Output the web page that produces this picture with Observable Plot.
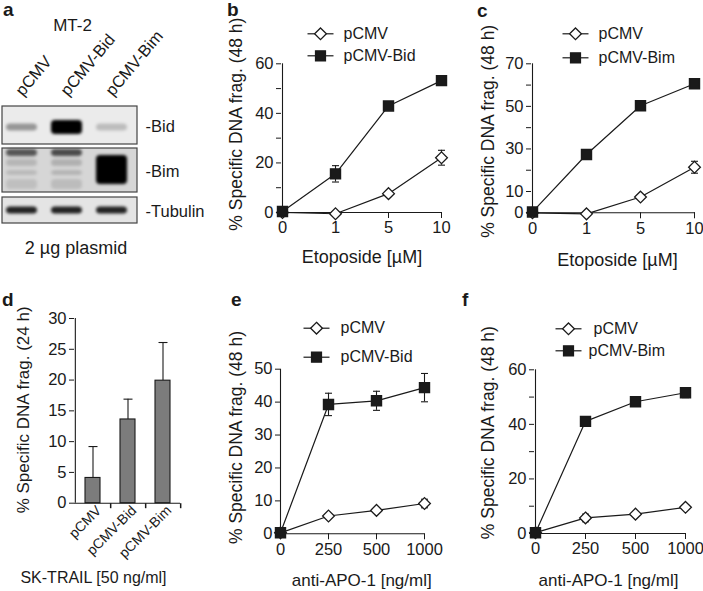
<!DOCTYPE html>
<html><head><meta charset="utf-8">
<script src="https://cdn.jsdelivr.net/npm/d3@7"></script>
<script src="https://cdn.jsdelivr.net/npm/@observablehq/plot@0.6"></script>
<style>
body{margin:0;background:#fff;}
#fig{position:relative;width:703px;height:591px;background:#fff;overflow:hidden;font-family:"Liberation Sans",Arial,Helvetica,sans-serif;color:#1a1a1a;}
#fig svg{position:absolute;}
.plbl{position:absolute;font-weight:bold;font-size:19px;line-height:19px;}
</style></head><body><div id="fig"></div>
<script>
// ---------- data ----------
const etoDoses = ["0","1","5","10"];
const apoDoses = ["0","250","500","1000"];
// panel b (Etoposide, Bid)
const bEmpty = [0, -0.5, 7.6, 22.1];
const bEmptyErr = [0, 0, 0, 3];
const bBid = [0.4, 15.6, 43, 53.2];
const bBidErr = [0, 3.3, 0, 0];
// panel c (Etoposide, Bim)
const cEmpty = [0, -0.5, 7.4, 21.4];
const cEmptyErr = [0, 0, 0, 2.8];
const cBim = [0.4, 27.4, 50.3, 60.6];
const cBimErr = [0, 0, 0, 0];
// panel d (SK-TRAIL)
const dConstructs = ["pCMV", "pCMV-Bid", "pCMV-Bim"];
const dValues = [4.1, 13.6, 19.9];
const dErrors = [5.1, 3.3, 6.2];
// panel e (anti-APO-1, Bid)
const eEmpty = [0.3, 5.4, 7.1, 9.2];
const eEmptyErr = [0, 0, 0, 1.3];
const eBid = [0.3, 39.3, 40.4, 44.4];
const eBidErr = [0, 3.4, 2.9, 4.3];
// panel f (anti-APO-1, Bim)
const fEmpty = [0.3, 5.7, 7.1, 9.6];
const fEmptyErr = [0, 1.4, 0, 0.8];
const fBim = [0.3, 41.1, 48.3, 51.6];
const fBimErr = [0, 0, 0, 1.8];
// tick values / labels
const bTicks = [0,10,20,30,40,50,60], bLabels = [0,20,40,60];
const cTicks = [0,10,20,30,40,50,60,70], cLabels = [0,10,30,50,70];
const dTicks = [0,5,10,15,20,25,30];
const eTicks = [0,10,20,30,40,50];
const fTicks = [0,10,20,30,40,50,60], fLabels = [0,20,40,60];
// blot (panel a)
const lanes = ["pCMV", "pCMV-Bid", "pCMV-Bim"];
const blotRows = ["Bid", "Bim", "Tubulin"];
const bidIntensity = [0.36, 1, 0.2];
const bimIntensity = [0.3, 0.35, 1];
const tubulinIntensity = [0.85, 0.85, 0.85];

// ---------- style helpers ----------
const INK = "#1a1a1a";
const FONT = "'Liberation Sans', Arial, Helvetica, sans-serif";
const fig = document.getElementById("fig");
const cap = w => ({draw(ctx){ ctx.moveTo(-w,0); ctx.lineTo(w,0); }});
const legendLine = {draw(ctx){ ctx.moveTo(-13,0); ctx.lineTo(13,0); }};
const vtick = {draw(ctx){ ctx.moveTo(0,0); ctx.lineTo(0,5); }};
const styleObj = {fontFamily: FONT, fontSize: "16px", color: INK, background: "transparent", overflow: "visible"};

function place(svg, box){
  svg.style.left = box.left + "px";
  svg.style.top = box.top + "px";
  fig.appendChild(svg);
  return svg;
}

function linePanel(o){
  const rows = [];
  o.series.forEach(s => o.doses.forEach((d,i) => rows.push({series: s.name, filled: s.filled, dose: d, value: s.values[i], err: s.errors[i]})));
  const errs = rows.filter(r => r.err > 0);
  const {box, frame} = o;
  const marks = [
    Plot.ruleY([0], {stroke: INK, strokeWidth: 1.1}),
    Plot.ruleX([o.doses[0]], {y1: () => o.yDomain[0], y2: () => o.yDomain[1], stroke: INK, strokeWidth: 1.1}),
    Plot.axisY({ticks: o.yTicks, tickFormat: d => o.yLabels.includes(d) ? String(d) : "", tickSize: 5, tickPadding: 3, fontSize: 16.5, label: null}),
    Plot.axisX({tickSize: 6, tickPadding: 3, fontSize: 16.5, label: null}),
    Plot.line(rows, {x: "dose", y: "value", z: "series", stroke: INK, strokeWidth: 1.2}),
    Plot.ruleX(errs, {x: "dose", y1: d => d.value - d.err, y2: d => d.value + d.err, stroke: INK, strokeWidth: 1.1}),
    Plot.dot(errs, {x: "dose", y: d => d.value + d.err, symbol: cap(3.5), r: 1, stroke: INK, fill: "none", strokeWidth: 1.1}),
    Plot.dot(errs, {x: "dose", y: d => d.value - d.err, symbol: cap(3.5), r: 1, stroke: INK, fill: "none", strokeWidth: 1.1}),
    Plot.dot(rows.filter(r => !r.filled), {x: "dose", y: "value", symbol: "diamond2", r: 5.3, fill: "white", stroke: INK, strokeWidth: 1.3}),
    Plot.dot(rows.filter(r => r.filled), {x: "dose", y: "value", symbol: "square", r: 5.6, fill: INK, stroke: INK})
  ];
  o.series.forEach((s, i) => {
    const lg = o.legend[i];
    marks.push(Plot.dot([s.name], {frameAnchor: "top-left", dx: lg.mx, dy: lg.y, symbol: legendLine, r: 1, stroke: INK, fill: "none", strokeWidth: 1.2}));
    marks.push(Plot.dot([s.name], {frameAnchor: "top-left", dx: lg.mx, dy: lg.y, symbol: s.filled ? "square" : "diamond2", r: s.filled ? 5.6 : 5.3, fill: s.filled ? INK : "white", stroke: INK, strokeWidth: 1.3}));
    marks.push(Plot.text([s.name], {frameAnchor: "top-left", dx: lg.tx, dy: lg.y, textAnchor: "start", lineAnchor: "middle", fontSize: 16, fill: INK}));
  });
  marks.push(Plot.text([o.xTitle], {frameAnchor: "bottom", dx: o.xt[0], dy: o.xt[1], textAnchor: "middle", lineAnchor: "middle", fontSize: o.xFont, fill: INK}));
  marks.push(Plot.text([o.yTitle], {frameAnchor: "left", rotate: -90, dx: o.yt[0], dy: o.yt[1], textAnchor: "middle", lineAnchor: "middle", fontSize: 17.5, fill: INK}));
  const svg = Plot.plot({
    width: box.width, height: box.height,
    marginLeft: frame.x1 - box.left, marginRight: box.left + box.width - frame.x2,
    marginTop: frame.y1 - box.top, marginBottom: box.top + box.height - frame.y2,
    x: {type: "point", domain: o.doses, padding: 0},
    y: {domain: o.yDomain},
    style: styleObj,
    marks
  });
  return place(svg, box);
}

// ---------- panel b ----------
linePanel({
  box: {left: 230, top: 0, width: 235, height: 290},
  frame: {x1: 281, x2: 442, y1: 63.3, y2: 212},
  doses: etoDoses, yDomain: [0, 60], yTicks: bTicks, yLabels: bLabels,
  series: [
    {name: "pCMV", filled: false, values: bEmpty, errors: bEmptyErr},
    {name: "pCMV-Bid", filled: true, values: bBid, errors: bBidErr}
  ],
  legend: [{mx: 39, tx: 62, y: -30}, {mx: 39, tx: 62, y: -8}],
  xTitle: "Etoposide [µM]", xt: [0, 45], xFont: 18,
  yTitle: "% Specific DNA frag. (48 h)", yt: [-45, -14]
});

// ---------- panel c ----------
linePanel({
  box: {left: 465, top: 0, width: 238, height: 290},
  frame: {x1: 531, x2: 695, y1: 63.3, y2: 212.3},
  doses: etoDoses, yDomain: [0, 70], yTicks: cTicks, yLabels: cLabels,
  series: [
    {name: "pCMV", filled: false, values: cEmpty, errors: cEmptyErr},
    {name: "pCMV-Bim", filled: true, values: cBim, errors: cBimErr}
  ],
  legend: [{mx: 44, tx: 67, y: -30}, {mx: 44, tx: 67, y: -6}],
  xTitle: "Etoposide [µM]", xt: [4, 47], xFont: 18,
  yTitle: "% Specific DNA frag. (48 h)", yt: [-43, -7]
});

// ---------- panel e ----------
linePanel({
  box: {left: 230, top: 295, width: 235, height: 296},
  frame: {x1: 280, x2: 424.5, y1: 368.7, y2: 533.3},
  doses: apoDoses, yDomain: [0, 50], yTicks: eTicks, yLabels: eTicks,
  series: [
    {name: "pCMV", filled: false, values: eEmpty, errors: eEmptyErr},
    {name: "pCMV-Bid", filled: true, values: eBid, errors: eBidErr}
  ],
  legend: [{mx: 36, tx: 60, y: -41}, {mx: 36, tx: 60, y: -12}],
  xTitle: "anti-APO-1 [ng/ml]", xt: [9, 47], xFont: 17,
  yTitle: "% Specific DNA frag. (48 h)", yt: [-44, -14]
});

// ---------- panel f ----------
linePanel({
  box: {left: 465, top: 295, width: 238, height: 296},
  frame: {x1: 534, x2: 685, y1: 369.3, y2: 533},
  doses: apoDoses, yDomain: [0, 60], yTicks: fTicks, yLabels: fLabels,
  series: [
    {name: "pCMV", filled: false, values: fEmpty, errors: fEmptyErr},
    {name: "pCMV-Bim", filled: true, values: fBim, errors: fBimErr}
  ],
  legend: [{mx: 34, tx: 59, y: -41}, {mx: 34, tx: 54, y: -19}],
  xTitle: "anti-APO-1 [ng/ml]", xt: [-1.5, 47], xFont: 17,
  yTitle: "% Specific DNA frag. (48 h)", yt: [-46, -19]
});

// ---------- panel d ----------
(function(){
  const box = {left: 0, top: 295, width: 230, height: 296};
  const frame = {x1: 74, x2: 180, y1: 318, y2: 502.7};
  const step = (frame.x2 - frame.x1) / dConstructs.length;
  const rows = dConstructs.map((c, i) => ({c, v: dValues[i], e: dErrors[i]}));
  const svg = Plot.plot({
    width: box.width, height: box.height,
    marginLeft: frame.x1 - box.left, marginRight: box.left + box.width - frame.x2,
    marginTop: frame.y1 - box.top, marginBottom: box.top + box.height - frame.y2,
    x: {type: "band", domain: dConstructs, padding: 0},
    y: {domain: [0, 30]},
    style: styleObj,
    marks: [
      Plot.ruleX(rows, {x: "c", y1: "v", y2: d => d.v + d.e, stroke: INK, strokeWidth: 1.1}),
      Plot.dot(rows, {x: "c", y: d => d.v + d.e, symbol: cap(4.5), r: 1, stroke: INK, fill: "none", strokeWidth: 1.1}),
      Plot.barY(rows, {x: "c", y: "v", fill: "#7c7c7c", stroke: INK, strokeWidth: 1.1, insetLeft: 10, insetRight: 10}),
      Plot.ruleY([0], {stroke: INK, strokeWidth: 1.1}),
      Plot.ruleX([dConstructs[0]], {dx: -step/2, y1: () => 0, y2: () => 30, stroke: INK, strokeWidth: 1.1}),
      Plot.dot(dConstructs, {x: d => d, y: () => 0, dx: step/2, symbol: vtick, r: 1, stroke: INK, fill: "none"}),
      Plot.axisY({ticks: dTicks, tickSize: 5, tickPadding: 3, fontSize: 16.5, label: null}),
      Plot.axisX({tickSize: 0, tickPadding: 5, tickRotate: -45, fontSize: 14, dx: 6, label: null}),
      Plot.text(["SK-TRAIL [50 ng/ml]"], {frameAnchor: "bottom", dx: -34, dy: 75, textAnchor: "middle", lineAnchor: "middle", fontSize: 16, fill: INK}),
      Plot.text(["% Specific DNA frag. (24 h)"], {frameAnchor: "left", rotate: -90, dx: -51, dy: -1, textAnchor: "middle", lineAnchor: "middle", fontSize: 17, fill: INK})
    ]
  });
  place(svg, box);
})();

// ---------- panel a (western blot) ----------
(function(){
  const box = {left: 0, top: 0, width: 228, height: 262};
  const blotRight = 137;
  const rowBox = {Bid: [106, 144], Bim: [148, 192], Tubulin: [197, 223]};
  const bg = {Bid: "#ebebeb", Bim: "#d6d6d6", Tubulin: "#e4e4e4"};
  const boxes = blotRows.map(r => ({row: r, y1: rowBox[r][0], y2: rowBox[r][1], fill: bg[r]}));
  const bands = [];
  lanes.forEach((lane, i) => {
    const b = bidIntensity[i];
    bands.push({lane, y1: b > 0.6 ? 120 : 123.5, y2: b > 0.6 ? 134 : 130.5, o: b});
    const m = bimIntensity[i];
    if (m > 0.6) {
      bands.push({lane, y1: 155, y2: 184, o: m});
    } else {
      bands.push({lane, y1: 149, y2: 156, o: m + 0.3});
      bands.push({lane, y1: 159, y2: 166, o: m * 0.5});
      bands.push({lane, y1: 170, y2: 175, o: m * 0.45});
      bands.push({lane, y1: 179, y2: 189, o: m * 0.35});
    }
    bands.push({lane, y1: 206.5, y2: 213.5, o: tubulinIntensity[i]});
  });
  const svg = Plot.plot({
    width: box.width, height: box.height,
    marginLeft: 2, marginRight: box.width - blotRight, marginTop: 0, marginBottom: 0,
    x: {type: "band", domain: lanes, range: [-2, 134], padding: 0, axis: null},
    y: {type: "linear", domain: [0, box.height], range: [0, box.height], axis: null},
    opacity: {type: "identity"},
    style: styleObj,
    marks: [
      Plot.rect(boxes, {y1: "y1", y2: "y2", fill: "fill"}),
      Plot.rect(bands, {x: "lane", y1: "y1", y2: "y2", fill: "#000", fillOpacity: "o", insetLeft: 7, insetRight: 7, rx: 4}),
      Plot.rect(boxes, {y1: "y1", y2: "y2", fill: "none", stroke: "#444", strokeWidth: 1.2}),
      Plot.text(["MT-2"], {frameAnchor: "top", dx: 2.5, dy: 25, textAnchor: "middle", lineAnchor: "middle", fontSize: 17, fill: INK}),
      Plot.text(lanes, {x: d => d, y: () => 93, dx: -3, rotate: -50, textAnchor: "start", lineAnchor: "middle", fontSize: 16.5, fill: INK}),
      Plot.text(blotRows, {y: r => (rowBox[r][0] + rowBox[r][1]) / 2 + 1, frameAnchor: "right", dx: 8, textAnchor: "start", lineAnchor: "middle", text: r => "-" + r, fontSize: 16.5, fill: INK}),
      Plot.text(["2 µg plasmid"], {frameAnchor: "top", dx: 6, dy: 248, textAnchor: "middle", lineAnchor: "middle", fontSize: 18, fill: INK})
    ]
  });
  // soften the blot bands
  const defs = d3.select(svg).insert("defs", ":first-child");
  defs.append("filter").attr("id", "blotblur").attr("x", "-20%").attr("y", "-40%").attr("width", "140%").attr("height", "180%")
    .append("feGaussianBlur").attr("stdDeviation", 1.6);
  const rectGroups = svg.querySelectorAll('g[aria-label="rect"]');
  if (rectGroups[1]) rectGroups[1].setAttribute("filter", "url(#blotblur)");
  place(svg, box);
})();

// ---------- panel letters ----------
[["a", 3, 0], ["b", 227, 0], ["c", 477, 1], ["d", 2, 290], ["e", 231, 290], ["f", 462, 290]].forEach(([t, x, y]) => {
  const el = document.createElement("div");
  el.className = "plbl";
  el.textContent = t;
  el.style.left = x + "px";
  el.style.top = y + "px";
  fig.appendChild(el);
});
</script></body></html>
